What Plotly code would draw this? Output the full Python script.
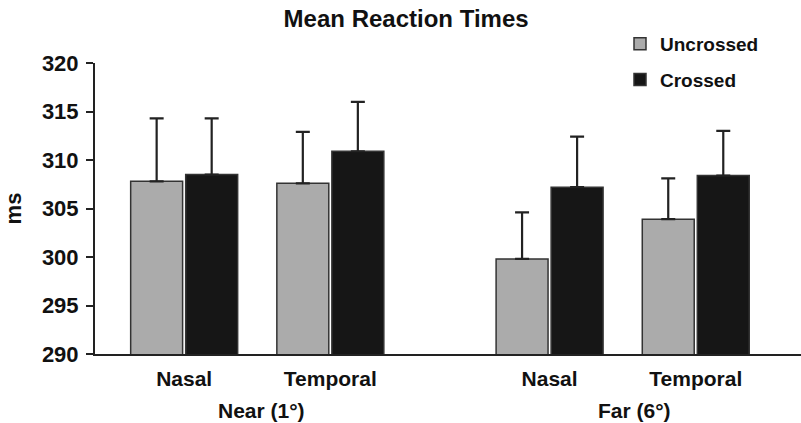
import plotly.graph_objects as go

# ---- data ----
positions = [0, 1, 2.5, 3.5]
tick_labels = ["Nasal", "Temporal", "Nasal", "Temporal"]
group_labels = ["Near (1°)", "Far (6°)"]
group_label_x = [0.53, 3.08]

uncrossed = [307.8, 307.6, 299.8, 303.9]
uncrossed_err = [6.5, 5.3, 4.8, 4.2]
crossed = [308.5, 310.9, 307.2, 308.4]
crossed_err = [5.8, 5.1, 5.2, 4.6]

FONT = "Liberation Sans, Arial, sans-serif"
TOP, BOTTOM = 63, 354

fig = go.Figure()
fig.add_trace(go.Bar(
    name="Uncrossed", x=positions, y=uncrossed, legendgroup="u",
    marker=dict(color="#ababab", line=dict(color="#333333", width=1.5)),
    error_y=dict(type="data", symmetric=False, array=uncrossed_err,
                 arrayminus=[0] * 4, color="#222222", thickness=2.2, width=7),
))
fig.add_trace(go.Bar(
    name="Crossed", x=positions, y=crossed, legendgroup="c",
    marker=dict(color="#161616", line=dict(color="#333333", width=1.5)),
    error_y=dict(type="data", symmetric=False, array=crossed_err,
                 arrayminus=[0] * 4, color="#222222", thickness=2.2, width=7),
))

for lbl, gx in zip(group_labels, group_label_x):
    fig.add_annotation(x=gx, xref="x", y=(BOTTOM - 410) / (BOTTOM - TOP), yref="paper",
                       yanchor="middle", text=lbl, showarrow=False,
                       font=dict(family=FONT, size=21, color="#111", weight="bold"))

fig.update_layout(
    width=801, height=423,
    margin=dict(l=95, r=0, t=TOP, b=423 - BOTTOM, autoexpand=False),
    paper_bgcolor="white", plot_bgcolor="white",
    barmode="group", bargap=0.247, bargroupgap=0.056,
    title=dict(text="Mean Reaction Times", x=0.507, xref="container", xanchor="center",
               y=1 - 19 / 423, yref="container", yanchor="middle",
               font=dict(family=FONT, size=24, color="#111", weight="bold")),
    legend=dict(x=(620 - 95) / 706, xref="paper", xanchor="left",
                y=1 - 25 / 423, yref="container", yanchor="top",
                font=dict(family=FONT, size=19, color="#111", weight="bold"),
                traceorder="grouped", tracegroupgap=8, bgcolor="rgba(0,0,0,0)"),
    xaxis=dict(range=[-0.61, 4.22], tickvals=positions, ticktext=tick_labels,
               showgrid=False, zeroline=False, showline=True, linecolor="#222",
               linewidth=2, ticks="", ticklabelstandoff=5,
               tickfont=dict(family=FONT, size=21, color="#111", weight="bold")),
    yaxis=dict(range=[290, 320], dtick=5, showgrid=False, zeroline=False,
               showline=True, linecolor="#222", linewidth=2,
               ticks="outside", ticklen=7, tickwidth=2, tickcolor="#222",
               ticklabelstandoff=3,
               tickfont=dict(family=FONT, size=22, color="#111", weight="bold"),
               title=dict(text="ms", standoff=14,
                          font=dict(family=FONT, size=22, color="#111", weight="bold"))),
)

fig.write_html("out.html", config={"displayModeBar": False},
               post_script="document.body.style.margin='0';document.body.style.overflow='hidden';")
